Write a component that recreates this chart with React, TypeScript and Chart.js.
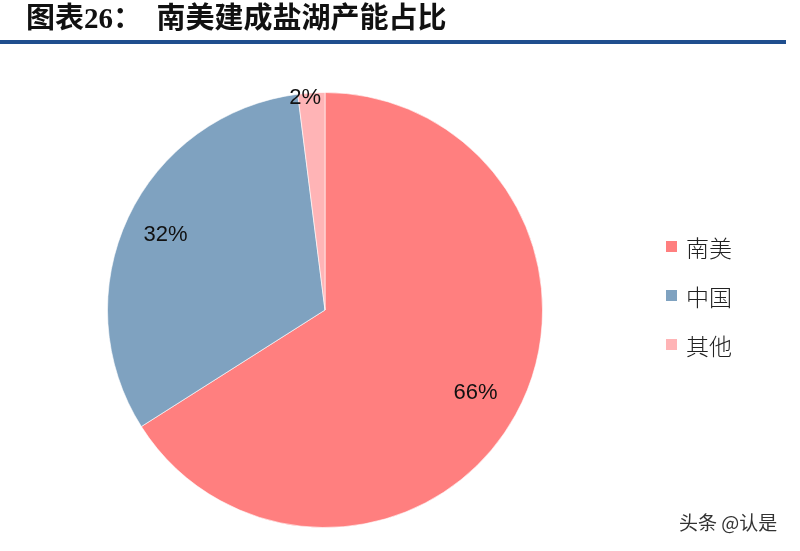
import React, { useEffect, useRef } from 'react';
import { Chart, registerables } from 'chart.js';

Chart.register(...registerables);

const regions = ['南美', '中国', '其他'];
const shares = [66, 32, 2];
const sliceColors = ['#FF7F7F', '#7FA2C0', '#FFB4B6'];
// how far out along the radius each percentage label sits
const labelRadius = [0.79, 0.81, 0.98];

const pctLabels = {
  id: 'pctLabels',
  afterDatasetsDraw(chart: Chart) {
    const ctx = chart.ctx;
    const meta = chart.getDatasetMeta(0);
    ctx.save();
    ctx.font = '22px "Liberation Sans", Arial, sans-serif';
    ctx.fillStyle = '#111';
    ctx.textAlign = 'center';
    ctx.textBaseline = 'middle';
    meta.data.forEach((arc: any, i: number) => {
      const { x, y, startAngle, endAngle, outerRadius } = arc.getProps(
        ['x', 'y', 'startAngle', 'endAngle', 'outerRadius'],
        true
      );
      // the tiny slice label sits a bit left of its slice, like the original
      const mid = (startAngle + endAngle) / 2 - (i === 2 ? 0.03 : 0);
      const r = outerRadius * labelRadius[i];
      ctx.fillText(shares[i] + '%', x + Math.cos(mid) * r, y + Math.sin(mid) * r);
    });
    ctx.restore();
  },
};

export default function App() {
  const canvasRef = useRef<HTMLCanvasElement>(null);
  const chartRef = useRef<Chart | null>(null);

  useEffect(() => {
    document.body.style.margin = '0';
    if (!canvasRef.current) return;
    if (chartRef.current) chartRef.current.destroy();

    chartRef.current = new Chart(canvasRef.current, {
      type: 'pie',
      data: {
        labels: regions,
        datasets: [
          {
            data: shares,
            backgroundColor: sliceColors,
            borderColor: 'rgba(255,255,255,0.6)',
            borderWidth: 1,
          },
        ],
      },
      options: {
        animation: false,
        responsive: false,
        maintainAspectRatio: false,
        layout: {
          padding: { left: 107, right: 257, top: 92, bottom: 23 },
        },
        plugins: {
          legend: { display: false },
          tooltip: { enabled: false },
        },
      },
      plugins: [pctLabels],
    });

    return () => {
      if (chartRef.current) {
        chartRef.current.destroy();
        chartRef.current = null;
      }
    };
  }, []);

  return (
    <div style={{ position: 'relative', width: 800, height: 551, background: '#fff', overflow: 'hidden' }}>
      <canvas ref={canvasRef} width={800} height={551} style={{ position: 'absolute', left: 0, top: 0 }} />
      <div
        style={{
          position: 'absolute',
          left: 26,
          top: 0,
          fontFamily: '"Liberation Serif", "Noto Sans CJK SC", serif',
          fontWeight: 'bold',
          fontSize: 29,
          color: '#111',
          whiteSpace: 'pre',
          lineHeight: '36px',
        }}
      >
        图表26：  南美建成盐湖产能占比
      </div>
      <div style={{ position: 'absolute', left: 0, top: 40, width: 786, height: 4, background: '#1F4E8E' }} />
      <div style={{ position: 'absolute', left: 666, top: 222 }}>
        {regions.map((name, i) => (
          <div key={name} style={{ display: 'flex', alignItems: 'center', height: 49 }}>
            <span style={{ width: 11, height: 11, background: sliceColors[i], marginRight: 9 }} />
            <span style={{ fontFamily: '"Noto Sans CJK SC", sans-serif', fontSize: 23, fontWeight: 300, color: '#222' }}>
              {name}
            </span>
          </div>
        ))}
      </div>
      <div
        style={{
          position: 'absolute',
          left: 679,
          top: 508,
          fontFamily: '"Noto Sans CJK SC", sans-serif',
          fontSize: 19,
          color: '#333',
        }}
      >
        头条 @认是
      </div>
    </div>
  );
}
